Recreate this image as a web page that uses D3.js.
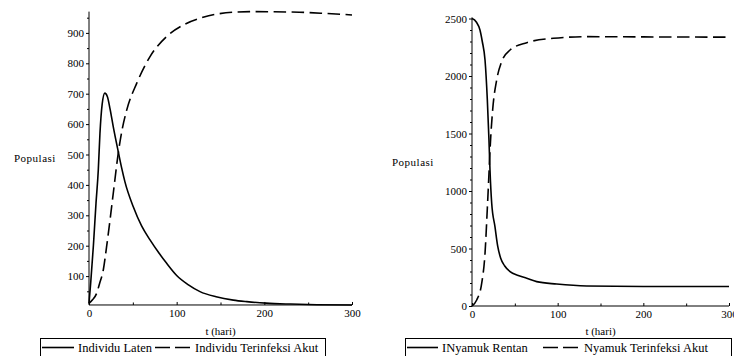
<!DOCTYPE html>
<html>
<head>
<meta charset="utf-8">
<script src="https://cdn.jsdelivr.net/npm/d3@7"></script>
<style>
  body { margin: 0; background: #fff; }
</style>
</head>
<body>
<div id="chart"></div>
<script>
const serif = "'Liberation Serif', 'DejaVu Serif', 'Times New Roman', serif";

// left panel: human compartments
const latenT = [0, 2, 5, 8, 10.6, 12.5, 15, 18, 21, 24, 27.7, 33.4, 37.3, 41, 50.5, 60, 69.6, 80, 88.6, 100, 113, 126.6, 145, 164.6, 180, 202, 230, 260, 300];
const latenV = [10, 80, 200, 340, 449, 570, 665, 702, 690, 650, 591, 509, 455, 410, 328, 265, 219, 175, 142, 102, 72, 49, 32, 21, 16, 11, 8, 6, 5];
const akutT = [0, 4, 8.7, 12, 16.3, 20, 24, 28, 33.4, 38, 43, 54.4, 69.6, 88.6, 107.6, 126.6, 145.6, 183.6, 240, 270, 300];
const akutV = [10, 22, 43, 75, 120, 195, 285, 380, 505, 585, 646, 734, 822, 888, 926, 948, 962, 970, 968, 964, 959];

// right panel: mosquito compartments
const rentanT = [0, 5, 9.3, 12, 15.2, 17.9, 19.8, 21, 23, 26.8, 30, 33.5, 38, 44.4, 54, 63.9, 75.5, 98.9, 133.9, 200, 300];
const rentanV = [2500, 2470, 2400, 2300, 2139, 1791, 1443, 1183, 893, 690, 520, 415, 350, 299, 265, 241, 212, 191, 174, 170, 170];
const nyAkutT = [0, 5.5, 11.3, 15.2, 17.9, 19.8, 21, 24.1, 28.8, 34.6, 44.4, 63.9, 94.9, 133.9, 200, 300];
const nyAkutV = [0, 52, 197, 458, 850, 1150, 1350, 1704, 1965, 2125, 2226, 2290, 2328, 2342, 2340, 2338];

const xMajor = [0, 100, 200, 300];
const xMinor = [50, 150, 250];

const panels = [
  {
    x0: 89, x1: 352, yDomain: [0, 1000], yRange: [306.5, 2.5], yMin: 5, yMax: 970,
    yMajor: d3.range(100, 1000, 100), yMinor: d3.range(50, 1000, 100),
    labelX: 14, labelY: 159,
    series: [
      { t: latenT, v: latenV, dash: null, name: "Individu Laten" },
      { t: akutT, v: akutV, dash: "12.5,5.5", name: "Individu Terinfeksi Akut" }
    ],
    legend: { left: 40, right: 325, items: [[42, 74, 78], [155, 190, 195]] }
  },
  {
    x0: 472, x1: 729, yDomain: [0, 2500], yRange: [306, 18.5], yMin: 0, yMax: 2510,
    yMajor: d3.range(0, 2501, 500), yMinor: d3.range(100, 2500, 100).filter(d => d % 500 !== 0),
    labelX: 392, labelY: 163,
    series: [
      { t: rentanT, v: rentanV, dash: null, name: "INyamuk Rentan" },
      { t: nyAkutT, v: nyAkutV, dash: "12.5,5.5", name: "Nyamuk Terinfeksi Akut" }
    ],
    legend: { left: 405, right: 731, items: [[407, 438, 442], [543, 580, 584]] }
  }
];

const svg = d3.select("#chart").append("svg")
  .attr("width", 734)
  .attr("height", 356)
  .attr("font-family", serif);

panels.forEach(function(p) {
  const x = d3.scaleLinear().domain([0, 300]).range([p.x0, p.x1]);
  const y = d3.scaleLinear().domain(p.yDomain).range(p.yRange);
  const g = svg.append("g");
  const axisY = y(p.yMin);

  // x axis (ticks pointing up, Maple style)
  g.append("g")
    .attr("transform", `translate(0, ${axisY})`)
    .call(d3.axisBottom(x).tickValues(xMajor).tickFormat(d3.format("d"))
      .tickSizeInner(-3).tickSizeOuter(0).tickPadding(4))
    .attr("font-family", serif)
    .call(a => a.select(".domain").attr("d", `M${p.x0},0H${p.x1}`))
    .call(a => a.selectAll("text").attr("font-size", "11px").attr("dy", "0.75em"));
  g.append("g")
    .attr("transform", `translate(0, ${axisY})`)
    .call(d3.axisBottom(x).tickValues(xMinor).tickSizeInner(-2.5).tickSizeOuter(0).tickFormat(""))
    .call(a => a.select(".domain").remove());

  // y axis
  g.append("g")
    .attr("transform", `translate(${p.x0}, 0)`)
    .call(d3.axisLeft(y).tickValues(p.yMajor).tickFormat(d3.format("d"))
      .tickSizeInner(3).tickSizeOuter(0).tickPadding(2))
    .attr("font-family", serif)
    .call(a => a.select(".domain").attr("d", `M0,${y(p.yMax)}V${axisY}`))
    .call(a => a.selectAll("text").attr("font-size", "11px"));
  g.append("g")
    .attr("transform", `translate(${p.x0}, 0)`)
    .call(d3.axisLeft(y).tickValues(p.yMinor).tickSizeInner(2).tickSizeOuter(0).tickFormat(""))
    .call(a => a.select(".domain").remove());

  // axis labels
  g.append("text")
    .attr("x", p.labelX)
    .attr("y", p.labelY)
    .attr("font-size", "11px")
    .attr("letter-spacing", "0.5px")
    .attr("dominant-baseline", "middle")
    .text("Populasi");
  g.append("text")
    .attr("x", (p.x0 + p.x1) / 2)
    .attr("y", 335)
    .attr("font-size", "11px")
    .attr("text-anchor", "middle")
    .text("t (hari)");

  // curves
  p.series.forEach(function(s) {
    const pts = s.t.map((t, i) => [t, s.v[i]]);
    g.append("path")
      .datum(pts)
      .attr("fill", "none")
      .attr("stroke", "#000")
      .attr("stroke-width", 1.6)
      .attr("stroke-dasharray", s.dash)
      .attr("d", d3.line()
        .x(d => x(d[0]))
        .y(d => y(d[1]))
        .curve(d3.curveMonotoneX));
  });

  // legend
  const lg = g.append("g");
  lg.append("rect")
    .attr("x", p.legend.left + 0.5)
    .attr("y", 338.5)
    .attr("width", p.legend.right - p.legend.left)
    .attr("height", 30)
    .attr("fill", "none")
    .attr("stroke", "#000")
    .attr("stroke-width", 1);
  p.series.forEach(function(s, i) {
    const it = p.legend.items[i];
    lg.append("line")
      .attr("x1", it[0]).attr("x2", it[1])
      .attr("y1", 347.5).attr("y2", 347.5)
      .attr("stroke", "#000")
      .attr("stroke-width", 1.6)
      .attr("stroke-dasharray", s.dash ? "15,5" : null);
    lg.append("text")
      .attr("x", it[2])
      .attr("y", 352)
      .attr("font-size", "12.5px")
      .text(s.name);
  });
});
</script>
</body>
</html>
